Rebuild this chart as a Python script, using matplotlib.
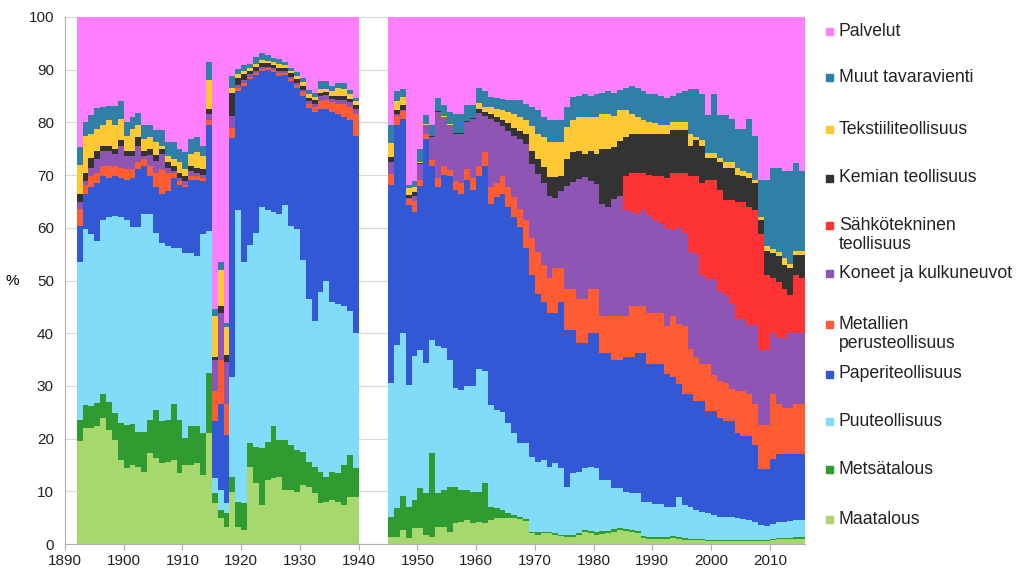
import numpy as np
import matplotlib
matplotlib.use("Agg")
import matplotlib.pyplot as plt
from matplotlib.patches import Rectangle

plt.rcParams['font.family'] = ['Liberation Sans', 'DejaVu Sans']

# years with data (no data 1940-1944)
years = list(range(1892, 1940)) + list(range(1945, 2016))

# upper edge (%) of each stacked band
# order per list: 1892-1939, then 1945-2015
maatalous_top = [
    19.6, 22.0, 22.0, 22.3, 23.9, 21.6, 19.7, 16.0, 14.4, 15.0,
    14.7, 13.7, 17.3, 16.3, 15.3, 15.6, 16.0, 13.4, 15.0, 15.0,
    15.3, 13.1, 21.0, 7.8, 4.9, 3.2, 9.9, 3.3, 2.7, 14.7,
    11.5, 7.4, 12.2, 12.5, 12.8, 10.3, 10.3, 9.9, 11.2, 10.9,
    9.6, 7.7, 8.0, 8.4, 8.0, 7.4, 9.0, 9.0,
    1.4, 1.3, 2.7, 1.1, 3.0, 3.0, 1.7, 1.4, 3.3, 3.3,
    2.3, 3.9, 4.2, 4.6, 3.9, 4.2, 3.9, 4.6, 4.9, 4.9,
    4.9, 4.9, 4.8, 4.4, 2.0, 1.7, 2.0, 2.0, 1.7, 1.5,
    1.4, 1.4, 1.7, 2.3, 2.0, 1.8, 1.9, 2.0, 2.3, 2.6,
    2.4, 2.2, 2.0, 1.1, 1.0, 1.0, 0.9, 1.0, 1.1, 0.9,
    0.8, 0.8, 0.7, 0.7, 0.6, 0.6, 0.6, 0.6, 0.6, 0.6,
    0.6, 0.6, 0.6, 0.6, 0.6, 0.8, 0.9, 1.0, 1.0, 1.0,
    1.0]
metsatalous_top = [
    23.5, 26.4, 26.2, 26.7, 28.4, 27.0, 24.8, 23.0, 22.6, 22.8,
    21.3, 21.3, 23.5, 25.4, 23.4, 23.5, 26.6, 23.5, 20.1, 22.3,
    22.3, 21.1, 32.4, 9.7, 6.5, 5.8, 12.8, 8.0, 7.7, 19.1,
    18.5, 18.2, 19.4, 22.3, 19.7, 19.7, 18.8, 17.8, 17.5, 15.6,
    14.7, 13.7, 12.8, 13.7, 13.4, 15.0, 16.9, 14.4,
    5.2, 6.8, 9.1, 7.1, 8.4, 10.6, 9.6, 17.2, 9.6, 10.3,
    10.9, 10.9, 10.3, 10.3, 9.9, 9.9, 11.5, 7.1, 6.8, 6.5,
    5.8, 5.5, 5.1, 4.7, 2.3, 2.2, 2.3, 2.2, 2.0, 1.7,
    1.7, 1.7, 2.0, 2.7, 2.5, 2.3, 2.4, 2.4, 2.8, 3.0,
    2.8, 2.6, 2.4, 1.5, 1.4, 1.4, 1.3, 1.4, 1.5, 1.3,
    1.1, 1.0, 0.9, 0.9, 0.8, 0.8, 0.8, 0.8, 0.8, 0.8,
    0.8, 0.8, 0.8, 0.8, 0.8, 1.0, 1.1, 1.2, 1.2, 1.3,
    1.3]
puu_top = [
    53.6, 59.8, 58.8, 57.5, 61.4, 62.0, 62.3, 62.0, 61.4, 60.1,
    60.1, 62.7, 62.7, 59.1, 57.2, 56.5, 56.2, 56.2, 55.2, 55.2,
    54.6, 58.8, 59.4, 12.6, 10.3, 7.8, 31.7, 63.3, 53.6, 56.8,
    59.1, 64.0, 63.3, 63.0, 62.7, 64.3, 60.4, 59.8, 53.9, 46.5,
    42.3, 47.8, 50.0, 45.9, 45.5, 45.2, 44.3, 40.0,
    30.5, 37.8, 40.1, 30.2, 35.7, 36.8, 34.4, 38.7, 37.5, 37.2,
    34.9, 29.6, 29.2, 30.0, 30.0, 33.2, 32.9, 26.4, 25.4, 25.1,
    22.9, 21.0, 19.1, 19.1, 16.6, 15.6, 15.9, 14.7, 15.3, 14.4,
    10.9, 13.4, 13.7, 14.4, 14.7, 14.4, 12.2, 12.2, 10.6, 10.6,
    9.9, 9.6, 9.6, 8.0, 8.0, 7.6, 7.6, 7.1, 7.1, 9.0,
    7.4, 7.1, 6.5, 6.1, 5.8, 5.5, 5.2, 5.2, 5.1, 4.9,
    4.7, 4.6, 4.2, 3.6, 3.4, 3.8, 4.1, 4.2, 4.4, 4.6,
    4.6]
paperi_top = [
    60.4, 66.5, 67.8, 68.5, 69.8, 69.5, 69.8, 69.4, 69.1, 69.4,
    71.1, 71.7, 69.8, 67.8, 66.5, 66.9, 69.4, 68.2, 67.8, 69.1,
    69.1, 68.8, 79.5, 23.3, 26.6, 20.7, 77.0, 86.0, 87.0, 88.3,
    89.0, 89.8, 89.9, 89.6, 88.8, 89.0, 87.8, 86.5, 85.0, 82.8,
    82.0, 82.5, 82.5, 82.0, 81.5, 81.0, 80.5, 77.5,
    68.2, 79.5, 80.7, 64.3, 63.0, 68.0, 76.9, 71.7, 67.8, 70.1,
    69.8, 67.2, 66.5, 69.1, 67.2, 69.8, 71.7, 64.6, 65.9, 66.5,
    64.0, 62.0, 60.1, 56.2, 51.0, 47.5, 45.9, 43.9, 43.9, 45.9,
    40.7, 40.7, 38.1, 38.1, 40.0, 40.0, 36.2, 36.2, 34.9, 34.9,
    35.5, 35.5, 36.2, 36.2, 34.2, 34.2, 34.2, 32.3, 31.7, 30.4,
    28.4, 28.4, 27.1, 27.1, 25.2, 25.2, 24.0, 23.3, 23.3, 21.0,
    20.5, 20.5, 18.7, 14.2, 14.2, 16.1, 17.1, 17.1, 17.1, 17.1,
    17.1]
metallien_top = [
    63.6, 68.2, 69.8, 70.4, 71.7, 71.7, 71.7, 71.4, 71.1, 71.1,
    72.4, 73.0, 71.7, 70.4, 71.1, 70.4, 70.4, 68.8, 68.2, 69.8,
    69.8, 69.4, 80.5, 29.1, 34.9, 26.5, 79.0, 86.6, 87.4, 88.7,
    89.4, 90.2, 90.3, 90.0, 89.4, 89.4, 88.3, 87.1, 85.7, 83.5,
    83.0, 84.0, 84.3, 83.8, 83.5, 83.5, 83.0, 81.5,
    70.2, 81.3, 82.2, 65.5, 65.0, 69.0, 77.8, 72.8, 69.4, 71.7,
    71.0, 68.8, 68.5, 71.1, 69.4, 71.7, 74.3, 67.8, 68.5, 69.8,
    67.8, 65.9, 63.6, 61.4, 58.1, 55.5, 53.0, 50.4, 52.3, 52.3,
    48.4, 48.4, 46.5, 46.5, 48.4, 48.4, 43.3, 43.3, 43.3, 43.3,
    43.3, 45.2, 45.2, 45.2, 43.9, 43.9, 43.9, 41.3, 43.3, 41.7,
    41.3, 37.0, 35.5, 34.2, 34.2, 32.0, 31.0, 30.5, 29.5, 29.0,
    29.0, 28.4, 26.5, 22.6, 22.6, 28.4, 26.5, 25.8, 25.8, 26.5,
    26.5]
koneet_top = [
    64.9, 68.8, 71.4, 73.0, 74.6, 74.6, 74.0, 75.6, 73.6, 73.6,
    75.6, 73.6, 73.9, 72.7, 74.0, 71.4, 70.7, 69.4, 68.8, 70.7,
    70.4, 70.1, 81.5, 35.0, 43.9, 34.6, 81.3, 87.1, 88.0, 89.1,
    89.8, 90.5, 90.6, 90.3, 89.8, 89.8, 88.7, 87.5, 86.2, 84.0,
    83.5, 85.0, 85.2, 84.5, 84.3, 84.3, 83.8, 82.5,
    72.5, 81.5, 82.4, 65.7, 66.0, 72.2, 79.5, 77.3, 82.0, 81.0,
    79.5, 77.8, 77.8, 80.1, 80.7, 81.8, 81.2, 80.7, 80.0, 79.4,
    78.4, 77.5, 76.8, 75.9, 72.1, 70.2, 68.5, 66.1, 65.7, 67.0,
    68.0, 68.6, 69.3, 69.6, 68.9, 68.3, 64.5, 64.0, 65.5, 66.0,
    63.3, 63.0, 62.7, 63.3, 62.3, 61.4, 60.7, 60.0, 59.5, 60.0,
    59.0, 55.5, 55.0, 51.0, 50.2, 50.2, 48.0, 47.2, 45.5, 42.6,
    42.6, 41.5, 41.5, 36.8, 36.8, 40.0, 39.0, 39.0, 40.0, 40.0,
    40.0]
# electrical industry only shows from 1985 on
sahko_top_1985 = [
    69.8, 70.4, 70.4, 70.4, 70.1, 69.8, 69.8, 69.4, 70.4, 70.4,
    70.4, 69.8, 69.8, 68.5, 69.1, 69.1, 67.2, 65.2, 65.2, 64.9,
    64.9, 64.0, 63.3, 58.8, 51.0, 50.4, 49.7, 48.4, 47.2, 51.0,
    50.4]
kemian_top = [
    66.5, 70.4, 73.3, 74.6, 75.6, 75.6, 75.0, 76.6, 74.6, 74.6,
    77.2, 74.6, 74.9, 73.8, 75.0, 72.4, 71.7, 70.4, 69.8, 71.7,
    71.4, 71.1, 82.5, 35.5, 45.2, 35.9, 85.5, 88.4, 89.1, 89.8,
    90.6, 91.2, 91.2, 90.9, 90.4, 90.3, 89.3, 88.2, 87.0, 84.7,
    84.2, 85.6, 85.8, 85.0, 85.0, 85.0, 84.5, 83.3,
    73.5, 82.3, 83.3, 66.2, 66.7, 72.3, 79.6, 77.4, 82.1, 81.1,
    79.6, 77.9, 77.9, 80.2, 80.8, 82.6, 82.0, 81.6, 81.0, 80.4,
    79.8, 79.0, 78.4, 77.8, 74.6, 73.0, 71.5, 69.6, 69.6, 69.9,
    73.0, 74.3, 74.6, 74.0, 74.6, 74.0, 74.9, 74.9, 75.3, 76.5,
    77.2, 77.8, 77.8, 77.8, 77.8, 77.8, 77.8, 77.8, 78.5, 78.5,
    78.5, 75.6, 76.6, 75.6, 73.3, 73.3, 72.4, 71.4, 71.4, 70.1,
    69.8, 69.4, 68.5, 61.4, 55.6, 55.2, 54.6, 53.0, 52.3, 54.9,
    54.9]
tekstiili_top = [
    72.0, 77.5, 77.8, 78.8, 79.5, 80.4, 79.5, 80.7, 77.5, 78.8,
    79.5, 76.9, 77.2, 76.2, 75.6, 73.6, 73.0, 72.4, 71.1, 74.0,
    74.3, 73.6, 88.0, 43.3, 52.0, 41.2, 86.5, 89.1, 89.8, 90.4,
    91.1, 91.8, 91.7, 91.4, 91.0, 90.8, 89.8, 88.8, 87.6, 85.3,
    84.8, 86.3, 86.4, 86.0, 86.5, 86.3, 85.3, 84.0,
    76.0, 84.0, 84.8, 67.5, 67.8, 72.4, 79.7, 77.5, 82.2, 81.2,
    79.7, 78.0, 78.0, 80.3, 80.9, 83.6, 83.0, 82.9, 82.5, 82.3,
    82.0, 81.6, 81.0, 80.4, 79.4, 77.8, 77.2, 76.2, 76.2, 76.2,
    79.1, 80.4, 81.0, 81.0, 81.0, 81.0, 81.6, 81.6, 81.3, 82.3,
    82.3, 81.6, 81.0, 80.4, 80.0, 79.8, 79.5, 79.5, 80.1, 80.1,
    80.1, 77.8, 77.2, 76.6, 74.2, 74.2, 73.2, 72.4, 72.4, 71.4,
    70.8, 70.4, 69.1, 62.0, 56.5, 55.9, 55.4, 54.3, 53.2, 55.6,
    55.6]
muut_top = [
    75.3, 80.1, 81.4, 82.7, 83.0, 83.2, 83.2, 84.1, 80.1, 81.1,
    81.8, 79.5, 79.5, 78.5, 78.5, 76.2, 76.2, 74.9, 74.3, 76.9,
    77.2, 75.6, 91.4, 44.6, 53.5, 42.0, 88.8, 90.1, 90.8, 91.1,
    92.4, 93.2, 92.7, 92.2, 92.0, 91.4, 90.4, 89.5, 88.5, 86.2,
    85.6, 87.9, 87.9, 86.9, 87.5, 87.5, 86.2, 84.6,
    79.5, 86.0, 86.4, 68.2, 68.8, 75.0, 81.4, 79.5, 84.6, 83.3,
    82.0, 81.5, 81.5, 83.3, 83.3, 86.6, 86.0, 84.8, 84.7, 84.5,
    84.3, 84.2, 84.2, 83.5, 82.9, 82.3, 81.0, 80.4, 80.4, 80.4,
    82.9, 84.8, 85.1, 85.4, 85.1, 85.4, 85.6, 85.9, 85.6, 86.2,
    86.6, 86.9, 86.6, 85.9, 85.3, 85.3, 85.0, 84.6, 85.0, 85.6,
    86.0, 86.3, 86.3, 85.3, 81.4, 85.3, 81.4, 81.4, 80.7, 78.8,
    78.8, 80.7, 77.5, 69.1, 69.1, 71.3, 71.3, 70.7, 70.7, 72.3,
    70.7]
palvelut_top = [100.0] * len(years)

sahko_top = list(koneet_top)
sahko_top[-len(sahko_top_1985):] = sahko_top_1985

labels = ['Maatalous', 'Metsätalous', 'Puuteollisuus', 'Paperiteollisuus',
          'Metallien\nperusteollisuus', 'Koneet ja kulkuneuvot',
          'Sähkötekninen\nteollisuus', 'Kemian teollisuus',
          'Tekstiiliteollisuus', 'Muut tavaravienti', 'Palvelut']
colors = ['#a6d86e', '#309b30', '#80dcf8', '#3258d6', '#ff5c33', '#8f55b4',
          '#ff3333', '#333333', '#ffc933', '#2f7fa6', '#ff80ff']
tops = [maatalous_top, metsatalous_top, puu_top, paperi_top, metallien_top,
        koneet_top, sahko_top, kemian_top, tekstiili_top, muut_top,
        palvelut_top]

fig = plt.figure(figsize=(10.24, 5.82), dpi=100)
ax = fig.add_axes([65 / 1024, 1 - 544 / 582, 740 / 1024, 527 / 582])

x = np.array(years)
bottom = np.zeros(len(years))
for top, col in zip(tops, colors):
    top = np.array(top, dtype=float)
    ax.bar(x, top - bottom, bottom=bottom, width=1.0, align='edge',
           color=col, linewidth=0, antialiased=False, zorder=2)
    bottom = top

ax.set_xlim(1890, 2016)
ax.set_ylim(0, 100)
ax.set_xticks(range(1890, 2011, 10))
ax.set_yticks(range(0, 101, 10))
ax.yaxis.grid(True, color='#d9d9d9', linewidth=0.8)
ax.set_axisbelow(True)
for s in ['top', 'right']:
    ax.spines[s].set_visible(False)
for s in ['left', 'bottom']:
    ax.spines[s].set_color('#b0b0b0')
ax.tick_params(axis='both', labelsize=11, colors='#222222')
ax.tick_params(axis='x', length=4, color='#b0b0b0')
ax.tick_params(axis='y', length=0, pad=8)
fig.text(12 / 1024, 1 - 281 / 582, '%', fontsize=11, ha='center', va='center')

# legend at the right, drawn by hand to match spacing
leg_y = [519, 469, 421, 374, 334, 273, 235, 178, 129, 78, 31]
mark_y = [519, 469, 421, 374, 324, 273, 226, 178, 129, 78, 31]
for lab, col, ty, my in zip(labels, colors, leg_y, mark_y):
    fig.text(839 / 1024, 1 - ty / 582, lab, fontsize=12.7, va='center',
             ha='left', linespacing=1.15, color='#222222')
    fig.patches.append(Rectangle((826 / 1024, 1 - (my + 3.5) / 582),
                                 7 / 1024, 7 / 582, transform=fig.transFigure,
                                 color=col))

fig.savefig('out.png', dpi=100)
